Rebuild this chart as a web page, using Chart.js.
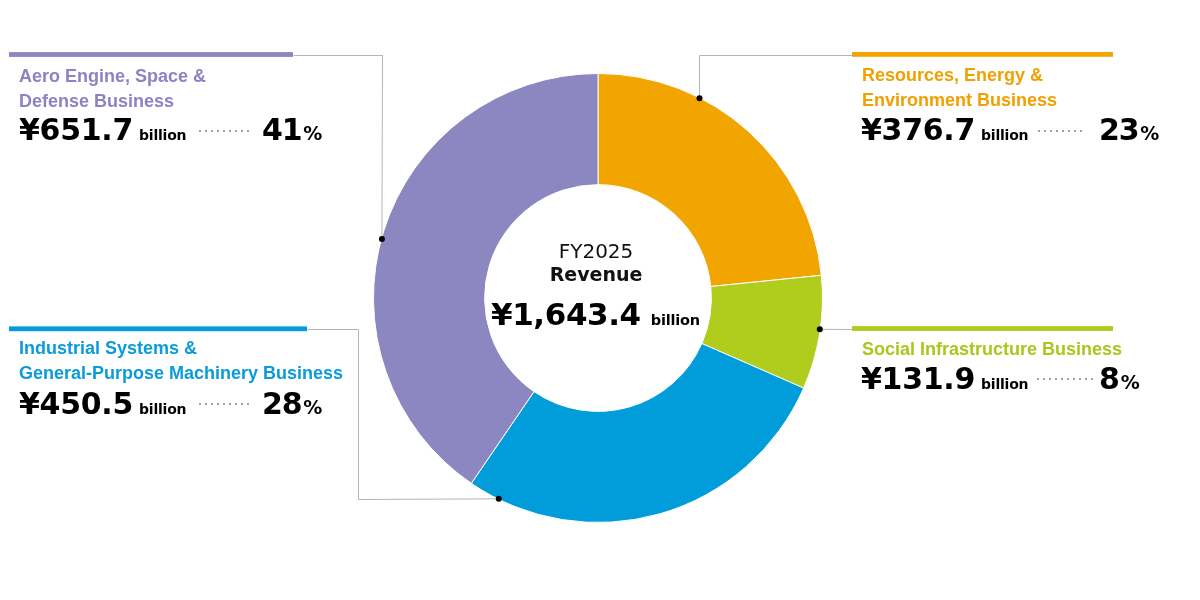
<!DOCTYPE html>
<html>
<head>
<meta charset="utf-8">
<script src="https://cdn.jsdelivr.net/npm/chart.js@4/dist/chart.umd.min.js"></script>
<style>
  html, body { margin: 0; padding: 0; background: #fff; }
  #wrap { position: relative; width: 1200px; height: 600px; overflow: hidden; }
  #c { position: absolute; left: 0; top: 0; }
  .t { position: absolute; font-family: "Liberation Sans", Arial, sans-serif; font-weight: bold; font-size: 18px; line-height: 25px; white-space: nowrap; }
  .v { position: absolute; font-family: "DejaVu Sans", Verdana, sans-serif; font-weight: bold; font-size: 30px; line-height: 30px; white-space: nowrap; color: #000; letter-spacing: -0.3px; }
  .v .b { font-size: 14px; line-height: 1; margin-left: 6px; letter-spacing: -0.2px; }
  .v .p { font-size: 19px; line-height: 1; margin-left: 2px; letter-spacing: 0; }
  .pc { letter-spacing: -1.2px; }
  .dots { position: absolute; height: 2px; background: repeating-linear-gradient(to right, #a0a0a0 0 2.5px, transparent 2.5px 6px); }
  .ctr { position: absolute; left: 446px; width: 300px; text-align: center; font-family: "DejaVu Sans", Verdana, sans-serif; white-space: nowrap; color: #111; }
</style>
</head>
<body>
<div id="wrap">
  <canvas id="c" width="1200" height="600"></canvas>
  <div id="labels"></div>
</div>
<script>
// ---- data ----
const categories = [
  "Resources, Energy & Environment Business",
  "Social Infrastructure Business",
  "Industrial Systems & General-Purpose Machinery Business",
  "Aero Engine, Space & Defense Business"
];
const titleLines = [
  ["Resources, Energy &", "Environment Business"],
  ["Social Infrastructure Business"],
  ["Industrial Systems &", "General-Purpose Machinery Business"],
  ["Aero Engine, Space &", "Defense Business"]
];
const revenue = [376.7, 131.9, 450.5, 651.7];   // ¥ billion
const shares = [23, 8, 28, 41];                 // %
const totalLabel = "¥1,643.4";
const yearLabel = "FY2025";

// ---- styles ----
const colors = ["#F2A500", "#B0CD1E", "#009DDA", "#8C87C0"];
const textColors = ["#F0A000", "#A8C81C", "#0A9BDA", "#8A84C2"];

// label layout (per category)
const layout = [
  { tx: 862, tTop: 62.5, vx: 861, vBase: 140, px: 1099, dx: 1038, dw: 47, dy: 130,
    frac: 0.32, bar: [852, 1113, 54.4], route: d => [[d.x, d.y], [d.x, 54.5], [852, 54.5]] },
  { tx: 862, tTop: 336.5, vx: 861, vBase: 389, px: 1099, dx: 1037, dw: 56, dy: 378,
    frac: 0.47, bar: [852, 1113, 328.5], route: d => [[d.x, d.y], [852, d.y]] },
  { tx: 19, tTop: 335.9, vx: 19, vBase: 414, px: 262, dx: 199, dw: 53, dy: 403,
    frac: 0.92, bar: [9, 307, 328.8], route: d => [[d.x, d.y], [357.5, d.y], [357.5, 328.5], [307, 328.5]] },
  { tx: 19, tTop: 63.5, vx: 19, vBase: 140, px: 262, dx: 199, dw: 53, dy: 130,
    frac: 0.487, bar: [9, 293, 54.5], route: d => [[d.x, d.y], [d.x, 54.5], [293, 54.5]] }
];

// ---- HTML labels ----
const L = document.getElementById('labels');
function add(html, cls, style) {
  const d = document.createElement('div');
  d.className = cls; d.innerHTML = html;
  Object.assign(d.style, style);
  L.appendChild(d);
  return d;
}
categories.forEach((c, i) => {
  const o = layout[i];
  add(titleLines[i].join('<br>'), 't', { left: o.tx + 'px', top: o.tTop + 'px', color: textColors[i] });
  add('¥' + revenue[i].toFixed(1) + '<span class="b">billion</span>', 'v',
      { left: o.vx + 'px', top: (o.vBase - 25.4) + 'px' });
  add('<span class="pc">' + shares[i] + '</span><span class="p">%</span>', 'v',
      { left: o.px + 'px', top: (o.vBase - 25.4) + 'px' });
  add('', 'dots', { left: o.dx + 'px', top: o.dy + 'px', width: o.dw + 'px' });
});
add(yearLabel, 'ctr', { top: '241px', fontSize: '20px', lineHeight: '20px' });
add('Revenue', 'ctr', { top: '265px', fontSize: '19px', lineHeight: '19px', fontWeight: 'bold' });
add(totalLabel + '<span style="font-size:14.5px;line-height:1;margin-left:10px;letter-spacing:-0.2px">billion</span>', 'v',
    { left: '491px', top: (325 - 26.2) + 'px', fontSize: '31px', lineHeight: '31px', letterSpacing: '-0.4px' });

// ---- leader lines plugin ----
const leaderPlugin = {
  id: 'leaders',
  afterDraw(chart) {
    const ctx = chart.ctx;
    const meta = chart.getDatasetMeta(0);
    ctx.save();
    meta.data.forEach((arc, i) => {
      const o = layout[i];
      const p = arc.getProps(['x', 'y', 'startAngle', 'endAngle', 'outerRadius'], true);
      const a = p.startAngle + o.frac * (p.endAngle - p.startAngle);
      const r = p.outerRadius - 0.5;
      const d = { x: p.x + r * Math.cos(a), y: p.y + r * Math.sin(a) };
      const pts = o.route(d);
      ctx.strokeStyle = '#b5b5b5';
      ctx.lineWidth = 1;
      ctx.beginPath();
      pts.forEach((q, k) => {
        const x = Math.round(q[0]) + 0.5, y = Math.round(q[1]) + 0.5;
        if (k === 0) ctx.moveTo(q[0], q[1]); else ctx.lineTo(x, y);
      });
      ctx.stroke();
      ctx.fillStyle = colors[i];
      ctx.fillRect(o.bar[0], o.bar[2] - 2.4, o.bar[1] - o.bar[0], 4.8);
      ctx.fillStyle = '#000';
      ctx.beginPath();
      ctx.arc(d.x, d.y, 3, 0, Math.PI * 2);
      ctx.fill();
    });
    ctx.restore();
  }
};

new Chart(document.getElementById('c'), {
  type: 'doughnut',
  data: {
    labels: categories,
    datasets: [{
      data: revenue,
      backgroundColor: colors,
      borderColor: '#ffffff',
      borderWidth: 1,
      hoverOffset: 0
    }]
  },
  options: {
    responsive: false,
    animation: false,
    cutout: '50.5%',
    layout: { padding: { left: 373, top: 73, right: 377, bottom: 77 } },
    plugins: { legend: { display: false }, tooltip: { enabled: false } }
  },
  plugins: [leaderPlugin]
});
</script>
</body>
</html>
